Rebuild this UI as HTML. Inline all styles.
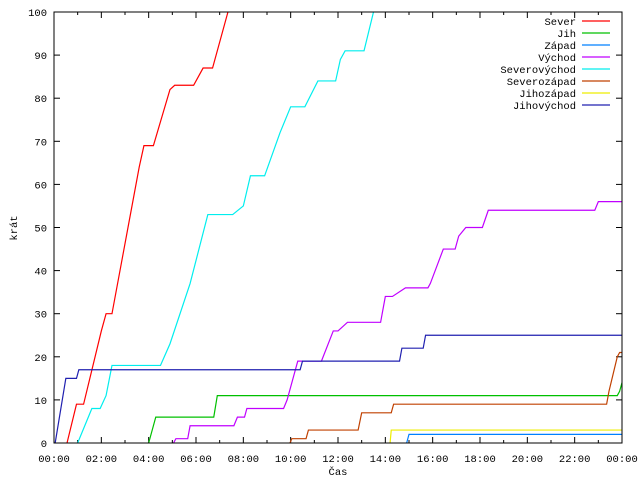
<!DOCTYPE html>
<html><head><meta charset="utf-8"><style>
body{margin:0;background:#fff}
svg text{font-family:"Liberation Mono",monospace;font-size:10.5px;fill:#000}
</style></head><body>
<svg id="c" width="640" height="480" xmlns="http://www.w3.org/2000/svg">
<defs><clipPath id="pc"><rect x="54" y="12" width="568" height="431"/></clipPath></defs>
<g id="grid"></g>
<g id="series" clip-path="url(#pc)"></g>
<g id="legend"></g>
<rect x="54" y="12" width="568" height="431" fill="none" stroke="#000"/>
<text x="338" y="475" text-anchor="middle">Čas</text>
<text x="0" y="0" transform="translate(17,228) rotate(-90)" text-anchor="middle">krát</text>
</svg>
<script>
const seriesNames=["Sever","Jih","Západ","Východ","Severovýchod","Severozápad","Jihozápad","Jihovýchod"];
const seriesColors=["#ff0000","#00c000","#0080ff","#c000ff","#00eeee","#c04000","#eeee00","#2020b0"];
const xTickLabels=["00:00","02:00","04:00","06:00","08:00","10:00","12:00","14:00","16:00","18:00","20:00","22:00","00:00"];
const yTickLabels=[0,10,20,30,40,50,60,70,80,90,100];
const sever=[[0.55,0],[0.95,9],[1.25,9],[2.0,26],[2.2,30],[2.45,30],[3.6,64],[3.8,69],[4.2,69],[4.9,82],[5.1,83],[5.9,83],[6.3,87],[6.7,87],[7.35,100]];
const jih=[[4.0,0],[4.3,6],[6.75,6],[6.9,11],[23.8,11],[23.9,12],[24,14]];
const zapad=[[14.9,0],[15.0,2],[24,2]];
const vychod=[[5.05,0],[5.15,1],[5.65,1],[5.75,4],[7.6,4],[7.75,6],[8.05,6],[8.15,8],[9.7,8],[9.85,10],[10.3,19],[11.3,19],[11.8,26],[12.0,26],[12.4,28],[13.8,28],[14.0,34],[14.3,34],[14.85,36],[15.8,36],[15.9,37],[16.45,45],[16.95,45],[17.1,48],[17.4,50],[18.1,50],[18.35,54],[22.85,54],[23.0,56],[24,56]];
const severovychod=[[1.0,0],[1.6,8],[1.95,8],[2.2,11],[2.45,18],[4.5,18],[4.9,23],[5.75,37],[6.5,53],[7.55,53],[8.0,55],[8.3,62],[8.9,62],[9.55,72],[10.0,78],[10.6,78],[11.15,84],[11.9,84],[12.1,89],[12.3,91],[13.1,91],[13.5,100]];
const severozapad=[[9.97,0],[10.05,1],[10.65,1],[10.75,3],[12.85,3],[13.0,7],[14.25,7],[14.35,9],[23.35,9],[23.45,12],[23.8,20],[23.9,21],[24,21]];
const jihozapad=[[14.2,0],[14.25,3],[24,3]];
const jihovychod=[[0.05,0],[0.5,15],[0.95,15],[1.05,17],[10.4,17],[10.5,19],[14.6,19],[14.7,22],[15.6,22],[15.7,25],[24,25]];
const allSeries=[sever,jih,zapad,vychod,severovychod,severozapad,jihozapad,jihovychod];
const NS="http://www.w3.org/2000/svg";
const X0=54,X1=622,Y0=443,Y1=12;
const xs=h=>X0+(X1-X0)*h/24;
const ys=v=>Y0-(Y0-Y1)*v/100;
const g=document.getElementById('grid');
function mk(t,a,p){const e=document.createElementNS(NS,t);for(const k in a)e.setAttribute(k,a[k]);p.appendChild(e);return e;}
for(let h=0;h<=24;h++){
  const x=xs(h),L=h%2===0?6:3;
  const t1=mk('line',{x1:x,x2:x,y1:Y0,y2:Y0-L,stroke:'#000'},g);
  
  
  const t2=mk('line',{x1:x,x2:x,y1:Y1,y2:Y1+L,stroke:'#000'},g);
  
  
}
xTickLabels.forEach((s,i)=>{
  const t=mk('text',{x:xs(i*2),y:462,'text-anchor':'middle'},g);t.textContent=s;
  
  
});
yTickLabels.forEach(v=>{
  const y=ys(v);
  const l=mk('line',{x1:X0,x2:X0+6,y1:y,y2:y,stroke:'#000'},g);
  
  
  const r=mk('line',{x1:X1,x2:X1-6,y1:y,y2:y,stroke:'#000'},g);
  
  
  const t=mk('text',{x:47,y:y+4,'text-anchor':'end'},g);t.textContent=v;
  
  
});
const sg=document.getElementById('series');
allSeries.forEach((pts,i)=>{
  const p=mk('polyline',{points:pts.map(d=>xs(d[0])+','+ys(d[1])).join(' '),fill:'none',stroke:seriesColors[i],'stroke-width':1.2},sg);
  
  
});
const lg=document.getElementById('legend');
seriesNames.forEach((n,i)=>{
  const y=21+i*12;
  const t=mk('text',{x:576,y:y+4,'text-anchor':'end'},lg);t.textContent=n;
  
  
  const l=mk('line',{x1:582,x2:610,y1:y,y2:y,stroke:seriesColors[i],'stroke-width':1.2},lg);
  
  
});
</script>
</body></html>
